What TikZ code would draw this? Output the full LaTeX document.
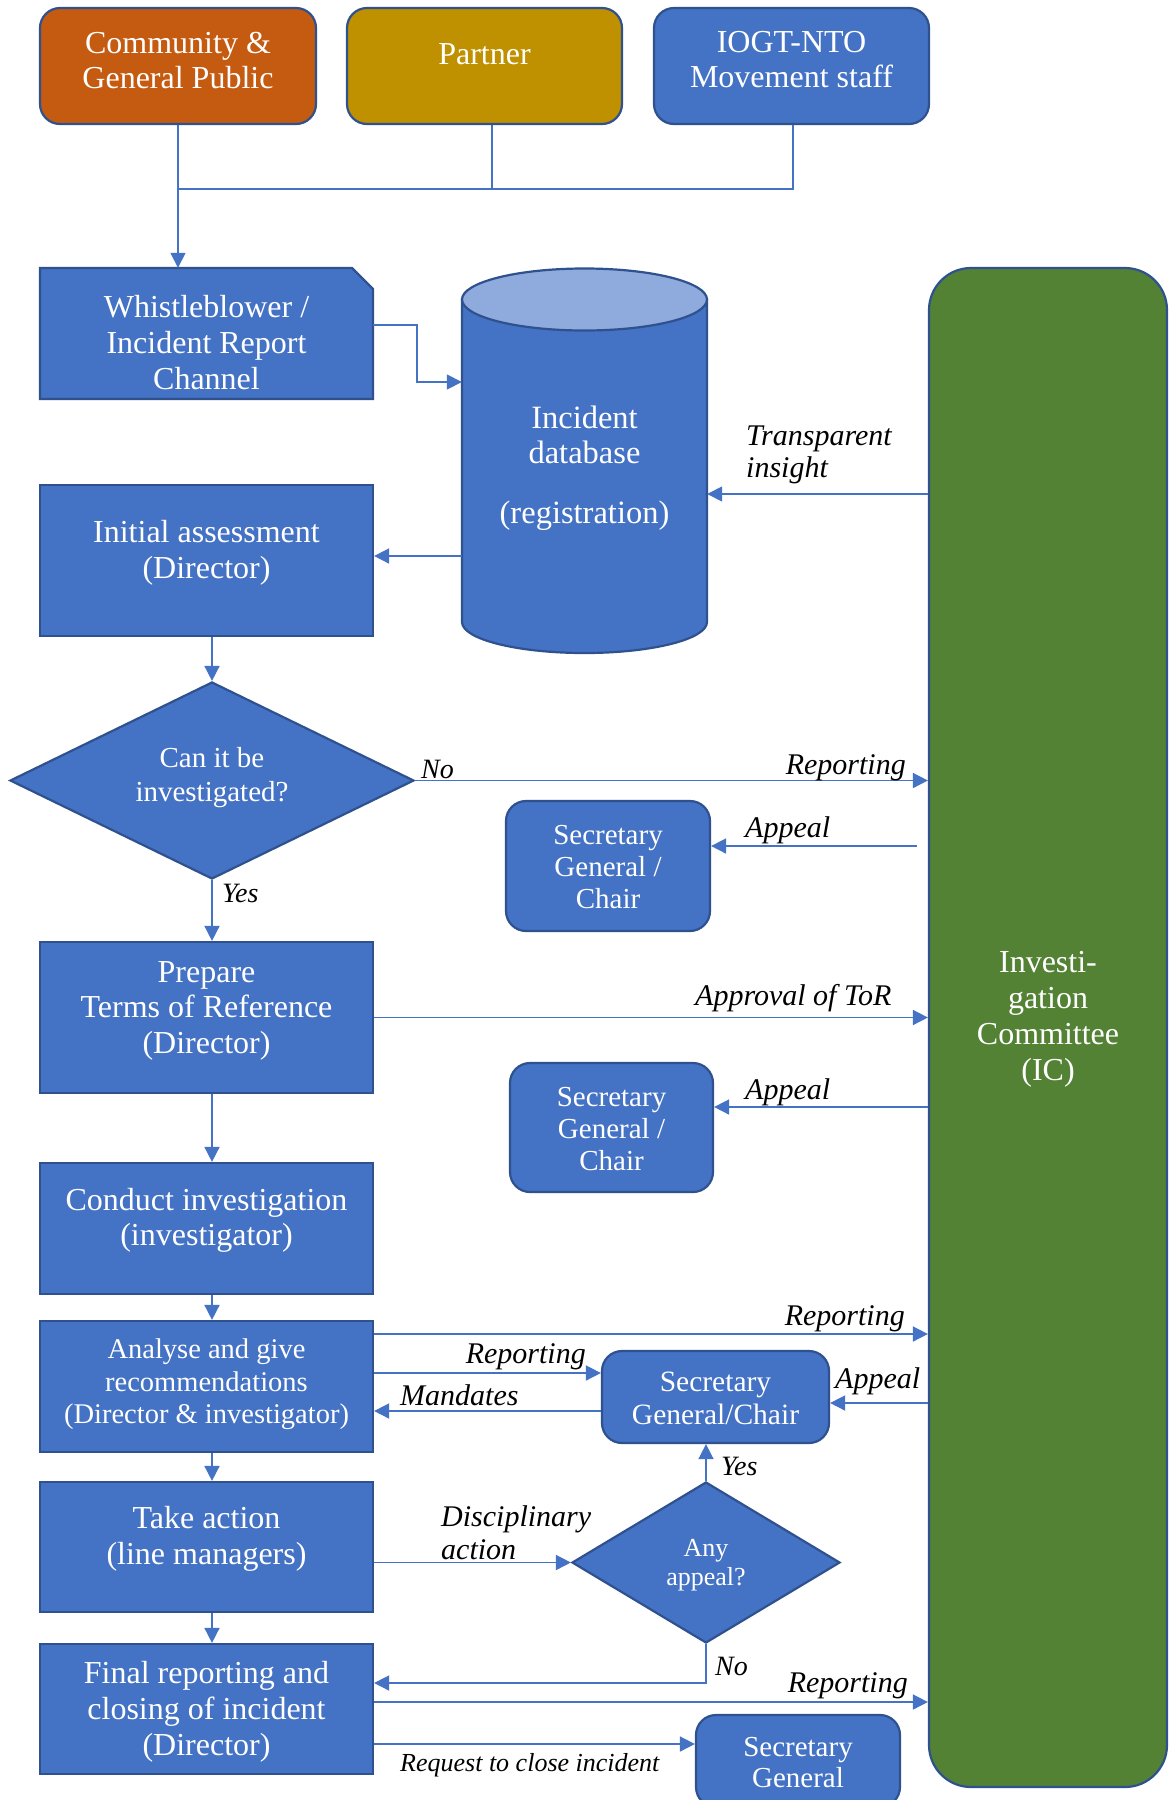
\documentclass[tikz,border=0pt]{standalone}
\usepackage{fontspec}
\setmainfont{Liberation Serif}
\usetikzlibrary{arrows.meta,shapes.geometric,calc}
\definecolor{boxblue}{HTML}{4472C4}
\definecolor{edgeblue}{HTML}{2F528F}
\definecolor{lineblue}{HTML}{4472C4}
\definecolor{orangebox}{HTML}{C55A11}
\definecolor{goldbox}{HTML}{BF9000}
\definecolor{greenbox}{HTML}{548235}
\definecolor{cyltop}{HTML}{8FAADC}
\tikzset{
  conn/.style={draw=lineblue, line width=1.6pt},
  arr/.style={conn, -{Triangle[length=15pt,width=15pt]}},
  box/.style={rectangle, draw=edgeblue, line width=2.2pt, fill=boxblue, inner sep=0pt},
  rbox/.style={box, rounded corners=20pt},
  dia/.style={diamond, draw=edgeblue, line width=2.2pt, fill=boxblue, inner sep=0pt},
  wtxt/.style={text=white, align=center, inner sep=0pt, font=\fontsize{32}{36}\selectfont},
  lab/.style={inner sep=0pt, font=\itshape\fontsize{30}{33}\selectfont},
}
\begin{document}
\begin{tikzpicture}[x=1pt,y=-1pt]
\useasboundingbox (0,0) rectangle (1168,1800);
\fill[white] (0,0) rectangle (1168,1800);

% Investigation committee
\node[rbox, rounded corners=42pt, fill=greenbox, minimum width=238pt, minimum height=1519pt] (ic) at (1048,1027.5) {};
\node[wtxt] (ic-t) at ([yshift=8pt]ic.center) {Investi-\\gation\\Committee\\(IC)};

% top sources
\node[rbox, fill=orangebox, minimum width=276pt, minimum height=116pt] (comm) at (178,66) {};
\node[wtxt, font=\fontsize{32}{35}\selectfont] (comm-t) at ([yshift=5.5pt]comm.center) {Community \&\\General Public};
\node[rbox, fill=goldbox, minimum width=275pt, minimum height=116pt] (partner) at (484.5,66) {};
\node[wtxt] (partner-t) at ([yshift=12pt]partner.center) {Partner};
\node[rbox, minimum width=275pt, minimum height=116pt] (iogt) at (791.5,66) {};
\node[wtxt, font=\fontsize{32}{35}\selectfont] (iogt-t) at ([yshift=6pt]iogt.center) {IOGT-NTO\\Movement staff};

\coordinate (j) at (178,189);
\draw[conn] ([xshift=1.5pt]iogt.south) |- (j);
\draw[conn] ([xshift=7.5pt]partner.south) |- (j);

% whistleblower (snipped corner)
\fill[boxblue, draw=edgeblue, line width=2.2pt] (40,268) -- (352,268) -- (373,289) -- (373,399) -- (40,399) -- cycle;
\node[minimum width=333pt, minimum height=131pt, inner sep=0pt] (wb) at (206.5,333.5) {};
\node[wtxt] (wb-t) at ([yshift=-9.5pt]wb.center) {Whistleblower /\\Incident Report\\Channel};
\draw[arr] (comm.south) -- (comm.south |- wb.north);

% cylinder
\fill[boxblue, draw=edgeblue, line width=2.2pt] (462,299.5) -- (462,622) arc[start angle=180, end angle=360, x radius=122.5pt, y radius=31pt] -- (707,299.5) -- cycle;
\fill[cyltop, draw=edgeblue, line width=2.2pt] (584.5,299.5) ellipse [x radius=122.5pt, y radius=31pt];
\node[minimum width=245pt, minimum height=385pt, inner sep=0pt] (db) at (584.5,460.5) {};
\node[wtxt, font=\fontsize{32.5}{35}\selectfont] (db-t) at ([yshift=-8pt]db.center) {Incident\\database\\[25pt](registration)};

\draw[arr] ([yshift=8.5pt]wb.east) -- ++(44,0) |- (db.west |- 0,382);
\draw[arr] (ic.west |- 0,494) -- (db.east |- 0,494);
\node[lab, anchor=base west] (l-tr1) at (746,445) {Transparent};
\node[lab, anchor=base west] (l-tr2) at (746,477) {insight};

% initial assessment
\node[box, minimum width=333pt, minimum height=151pt] (ia) at (206.5,560.5) {};
\node[wtxt] (ia-t) at ([yshift=7.5pt]ia.center) {Initial assessment\\(Director)};
\draw[arr] (db.west |- 0,556) -- (ia.east |- 0,556);

% decision 1
\node[dia, minimum width=404pt, minimum height=197pt] (d1) at (212,780.5) {};
\node[wtxt, font=\fontsize{29}{34}\selectfont] (d1-t) at ([yshift=3pt]d1.center) {Can it be\\investigated?};
\draw[arr] (ia.south -| d1.north) -- (d1.north);
\draw[arr] (d1.east) -- (d1.east -| ic.west);
\node[lab, anchor=base west, font=\itshape\fontsize{28}{30}\selectfont] (l-no1) at (421,778) {No};
\node[lab, anchor=base east] (l-rep1) at (906,774) {Reporting};

% SG 1
\node[rbox, minimum width=204pt, minimum height=130pt] (sg1) at (608,866) {};
\node[wtxt, font=\fontsize{29}{32}\selectfont] (sg1-t) at ([yshift=-1pt]sg1.center) {Secretary\\General /\\Chair};
\draw[arr] ($(ic.west |- 0,846)+(-11,0)$) -- (sg1.east |- 0,846);
\node[lab, anchor=base west] (l-ap1) at (745,837) {Appeal};

% prepare ToR
\node[box, minimum width=333pt, minimum height=151pt] (prep) at (206.5,1017.5) {};
\node[wtxt, font=\fontsize{32}{35.5}\selectfont] (prep-t) at ([yshift=7pt]prep.center) {Prepare\\Terms of Reference\\(Director)};
\draw[arr] (d1.south) -- (d1.south |- prep.north);
\node[lab, anchor=base west, font=\itshape\fontsize{28}{30}\selectfont] (l-yes1) at (222,902) {Yes};
\draw[arr] (prep.east) -- (prep.east -| ic.west);
\node[lab, anchor=base west] (l-tor) at (695,1005) {Approval of ToR};

% SG 2
\node[rbox, minimum width=203pt, minimum height=129pt] (sg2) at (611.5,1127.5) {};
\node[wtxt, font=\fontsize{29}{32}\selectfont] (sg2-t) at ([yshift=-1.5pt]sg2.center) {Secretary\\General /\\Chair};
\draw[arr] (ic.west |- 0,1107) -- (sg2.east |- 0,1107);
\node[lab, anchor=base west] (l-ap2) at (745,1099) {Appeal};

% conduct investigation
\node[box, minimum width=333pt, minimum height=131pt] (conduct) at (206.5,1228.5) {};
\node[wtxt, font=\fontsize{32}{35}\selectfont] (conduct-t) at ([yshift=8pt]conduct.center) {Conduct investigation\\(investigator)};
\draw[arr] (prep.south -| d1.south) -- (conduct.north -| d1.south);

% analyse
\node[box, minimum width=333pt, minimum height=131pt] (analyse) at (206.5,1386.5) {};
\node[wtxt, font=\fontsize{28.5}{32.5}\selectfont] (analyse-t) at ([yshift=2pt]analyse.center) {Analyse and give\\recommendations\\(Director \& investigator)};
\draw[arr] (conduct.south -| d1.south) -- (analyse.north -| d1.south);
\draw[arr] (analyse.east |- 0,1334) -- (ic.west |- 0,1334);
\node[lab, anchor=base east] (l-rep2) at (905,1325) {Reporting};

% SG 3
\node[rbox, minimum width=227pt, minimum height=92pt] (sg3) at (715.5,1397) {};
\node[wtxt, font=\fontsize{29.5}{33}\selectfont] (sg3-t) at ([yshift=-1.5pt]sg3.center) {Secretary\\General/Chair};
\draw[arr] (analyse.east |- 0,1373) -- (sg3.west |- 0,1373);
\node[lab, anchor=base east] (l-rep3) at (586,1363) {Reporting};
\draw[arr] (sg3.west |- 0,1411) -- (analyse.east |- 0,1411);
\node[lab, anchor=base west] (l-mand) at (400,1405) {Mandates};
\draw[arr] (ic.west |- 0,1403) -- (sg3.east |- 0,1403);
\node[lab, anchor=base west] (l-ap3) at (835,1388) {Appeal};

% take action
\node[box, minimum width=333pt, minimum height=130pt] (take) at (206.5,1547) {};
\node[wtxt] (take-t) at ([yshift=8pt]take.center) {Take action\\(line managers)};
\draw[arr] (analyse.south -| d1.south) -- (take.north -| d1.south);

% decision 2
\node[dia, minimum width=268pt, minimum height=161pt] (d2) at (706,1562.5) {};
\node[wtxt, font=\fontsize{26}{29}\selectfont] (d2-t) at ([yshift=-2.5pt]d2.center) {Any\\appeal?};
\draw[arr] (take.east |- d2.west) -- (d2.west);
\node[lab, anchor=base west] (l-disc1) at (441,1526) {Disciplinary};
\node[lab, anchor=base west] (l-disc2) at (441,1559) {action};
\draw[arr] (d2.north) -- (d2.north |- sg3.south);
\node[lab, anchor=base west, font=\itshape\fontsize{28}{30}\selectfont] (l-yes2) at (721,1475) {Yes};

% final reporting
\node[box, minimum width=333pt, minimum height=130pt] (final) at (206.5,1709) {};
\node[wtxt] (final-t) at ([yshift=-3pt]final.center) {Final reporting and\\closing of incident\\(Director)};
\draw[arr] (take.south -| d1.south) -- (final.north -| d1.south);
\draw[arr] (d2.south) |- (final.east |- 0,1683);
\node[lab, anchor=base west, font=\itshape\fontsize{28}{30}\selectfont] (l-no2) at (715,1675) {No};
\draw[arr] (final.east |- 0,1702) -- (ic.west |- 0,1702);
\node[lab, anchor=base east] (l-rep4) at (908,1692) {Reporting};

% SG 4
\node[rbox, minimum width=204pt, minimum height=92pt] (sg4) at (798,1761) {};
\node[wtxt, font=\fontsize{29}{31}\selectfont] (sg4-t) at ([yshift=-1.5pt]sg4.center) {Secretary\\General};
\draw[arr] (final.east |- 0,1744) -- (sg4.west |- 0,1744);
\node[lab, anchor=base west, font=\itshape\fontsize{26}{28}\selectfont] (l-req) at (400,1771) {Request to close incident};
\end{tikzpicture}
\end{document}
